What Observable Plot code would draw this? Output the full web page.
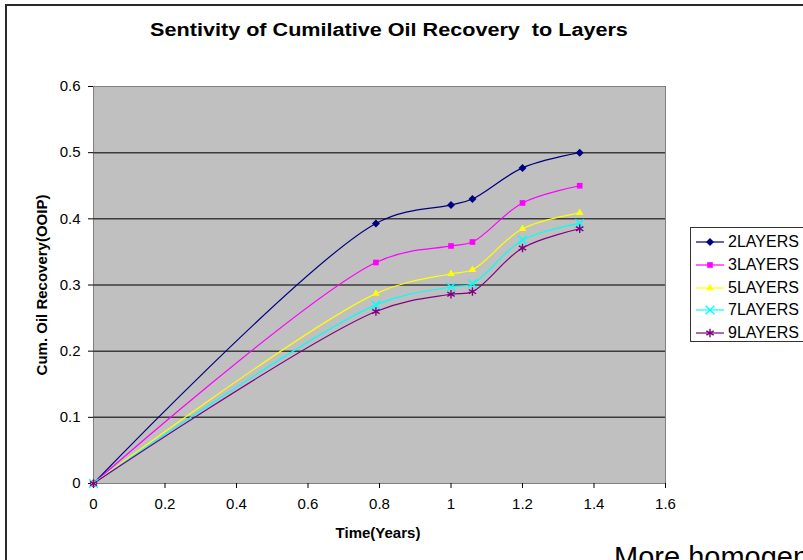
<!DOCTYPE html>
<html><head><meta charset="utf-8">
<script src="https://cdn.jsdelivr.net/npm/d3@7"></script>
<script src="https://cdn.jsdelivr.net/npm/@observablehq/plot@0.6"></script>
<style>
body{margin:0;background:#fff;font-family:"Liberation Sans",Arial,sans-serif;}
#wrap{position:relative;width:803px;height:560px;overflow:hidden;background:#fff;}
#frame{position:absolute;left:5px;top:4px;width:900px;height:700px;border:2px solid #2a2a2a;box-sizing:border-box;}
#chart{position:absolute;left:0;top:0;}
.t{position:absolute;white-space:nowrap;color:#000;}
#title{left:389px;top:30px;transform:translate(-50%,-50%) scaleX(1.2);font-weight:bold;font-size:18px;}
#xlab{left:378px;top:532px;transform:translate(-50%,-50%);font-weight:bold;font-size:15px;}
#ylab{left:41px;top:285px;transform:translate(-50%,-50%) rotate(-90deg);font-weight:bold;font-size:15px;}
#note{left:614px;top:543px;font-size:29px;line-height:29px;}
#legend{position:absolute;left:690px;top:227px;width:200px;height:115px;border:1px solid #333;box-sizing:border-box;background:#fff;}
.row{position:absolute;left:0;height:22px;}
.row svg{position:absolute;left:0;top:0;}
.row span{position:absolute;left:37px;top:50%;transform:translateY(-50%);font-size:16px;white-space:nowrap;}
</style></head><body>
<div id="wrap">
  <div id="frame"></div>
  <div id="chart"></div>
  <div class="t" id="title">Sentivity of Cumilative Oil Recovery&nbsp; to Layers</div>
  <div class="t" id="xlab">Time(Years)</div>
  <div class="t" id="ylab">Cum. Oil Recovery(OOIP)</div>
  <div id="legend"></div>
  <div class="t" id="note">More homogeneous</div>
</div>
<script>
const times = [0, 0.79, 1.0, 1.06, 1.2, 1.36];
const series = ["2LAYERS", "3LAYERS", "5LAYERS", "7LAYERS", "9LAYERS"];
const layers2 = [0, 0.393, 0.421, 0.430, 0.477, 0.500];
const layers3 = [0, 0.334, 0.359, 0.365, 0.424, 0.450];
const layers5 = [0, 0.287, 0.317, 0.323, 0.385, 0.409];
const layers7 = [0, 0.270, 0.297, 0.302, 0.368, 0.393];
const layers9 = [0, 0.260, 0.286, 0.290, 0.356, 0.385];
const xTicks = [0, 0.2, 0.4, 0.6, 0.8, 1, 1.2, 1.4, 1.6];
const yTicks = [0, 0.1, 0.2, 0.3, 0.4, 0.5, 0.6];

const colors = ["#000080", "#FF00FF", "#FFFF00", "#00FFFF", "#800080"];
const symbols = ["diamond2", "square2", "triangle2", "times", "asterisk"];
const filledSeries = ["2LAYERS", "3LAYERS", "5LAYERS"];
const values = [layers2, layers3, layers5, layers7, layers9];

const rows = series.flatMap((s, i) => times.map((t, j) => ({series: s, time: t, value: values[i][j]})));
const fmt = d => d3.format("~g")(d);

const chart = Plot.plot({
  width: 803, height: 560,
  marginLeft: 93, marginRight: 138, marginTop: 86, marginBottom: 77,
  style: {background: "transparent", fontFamily: "'Liberation Sans', Arial, sans-serif", fontSize: "15px", color: "#000"},
  x: {domain: [0, 1.6]},
  y: {domain: [0, 0.6]},
  color: {domain: series, range: colors},
  symbol: {domain: series, range: symbols},
  marks: [
    Plot.frame({fill: "#C0C0C0", stroke: "#808080"}),
    Plot.ruleY(yTicks.filter(d => d > 0 && d < 0.6), {stroke: "#3c3c3c", strokeWidth: 1.5}),
    Plot.axisY({ticks: yTicks, tickSize: 5, tickPadding: 8, tickFormat: fmt, fontSize: 15, label: null}),
    Plot.axisX({ticks: xTicks, tickSize: 5, tickPadding: 10, tickFormat: fmt, fontSize: 15, label: null}),
    Plot.line(rows, {x: "time", y: "value", z: "series", stroke: "series", curve: "catmull-rom", strokeWidth: 1.2}),
    Plot.dot(rows.filter(d => filledSeries.includes(d.series)), {x: "time", y: "value", symbol: "series", fill: "series", r: 3.6}),
    Plot.dot(rows.filter(d => !filledSeries.includes(d.series)), {x: "time", y: "value", symbol: "series", stroke: "series", fill: "none", r: 4, strokeWidth: 1.4})
  ]
});
document.getElementById("chart").appendChild(chart);

// legend
const d3sym = {diamond2: d3.symbolDiamond2, square2: d3.symbolSquare2, triangle2: d3.symbolTriangle2, times: d3.symbolTimes, asterisk: d3.symbolAsterisk};
const legend = d3.select("#legend");
series.forEach((s, i) => {
  const row = legend.append("div").attr("class", "row").style("top", (3 + i * 22.8) + "px").style("width", "190px");
  const svg = row.append("svg").attr("width", 36).attr("height", 22);
  svg.append("line").attr("x1", 5).attr("x2", 33).attr("y1", 11).attr("y2", 11).attr("stroke", colors[i]).attr("stroke-width", 1.2);
  const filled = filledSeries.includes(s);
  svg.append("path")
    .attr("transform", "translate(19,11)")
    .attr("d", d3.symbol(d3sym[symbols[i]], Math.PI * (filled ? 3.6 : 4) ** 2)())
    .attr("fill", filled ? colors[i] : "none")
    .attr("stroke", filled ? "none" : colors[i])
    .attr("stroke-width", 1.4);
  row.append("span").text(s);
});
</script>
</body></html>
